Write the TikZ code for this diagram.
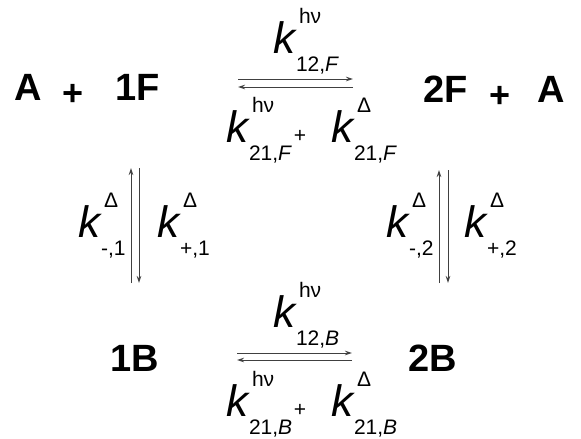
\documentclass[tikz,border=0pt]{standalone}
\usepackage{fontspec}
\setmainfont{Liberation Sans}
\usetikzlibrary{arrows.meta}
\newcommand\smallfs{\fontsize{21}{21}\selectfont}
\newcommand\kr[2]{\textit{k}\rlap{\kern2pt\raisebox{30pt}{\smallfs #1}}\kern-1pt\raisebox{-18pt}{\smallfs #2}}
\tikzset{
  species/.style={inner sep=0pt,anchor=base west,font=\fontsize{38}{38}\selectfont\bfseries},
  plussign/.style={inner sep=0pt,anchor=center,font=\fontsize{36}{36}\selectfont\bfseries},
  rate/.style={inner sep=0pt,anchor=base west,font=\fontsize{44}{44}\selectfont},
  smallplus/.style={inner sep=0pt,anchor=center,font=\smallfs},
  rx/.style={draw=black!75,line width=1pt,-{Stealth[length=7pt,width=4.5pt]}}
}
\begin{document}
\begin{tikzpicture}[x=1pt,y=-1pt]
\useasboundingbox (0,0) rectangle (581,439);
% species
\node[species] (A1) at (14,100) {A};
\node[plussign] (p1) at (73,95) {+};
\node[species] (F1) at (115,100) {1F};
\node[species] (F2) at (423,102) {2F};
\node[plussign] (p2) at (500,97) {+};
\node[species] (A2) at (537,102) {A};
\node[species] (B1) at (110,371) {1B};
\node[species] (B2) at (408,371) {2B};
% arrow end points
\coordinate (t1) at (238,79); \coordinate (t2) at (353,79);
\coordinate (t3) at (353,87); \coordinate (t4) at (238,87);
\coordinate (b1) at (237,353); \coordinate (b2) at (352,353);
\coordinate (b3) at (352,360); \coordinate (b4) at (237,360);
\coordinate (l1) at (131,283); \coordinate (l2) at (131,168);
\coordinate (l3) at (139,168); \coordinate (l4) at (139,283);
\coordinate (r1) at (439,283); \coordinate (r2) at (439,170);
\coordinate (r3) at (448,170); \coordinate (r4) at (448,283);
\draw[rx] (t1) -- (t2);
\draw[rx] (t3) -- (t4);
\draw[rx] (b1) -- (b2);
\draw[rx] (b3) -- (b4);
\draw[rx] (l1) -- (l2);
\draw[rx] (l3) -- (l4);
\draw[rx] (r1) -- (r2);
\draw[rx] (r3) -- (r4);
% rate constants, top
\node[rate] (kt) at (273,53) {\kr{hν}{12,\textit{F}}};
\node[rate] (kt1) at (226,142) {\kr{hν}{21,\textit{F}}};
\node[smallplus] (ptt) at (300,136) {+};
\node[rate] (kt2) at (331,142) {\kr{Δ}{21,\textit{F}}};
% vertical
\node[rate] (kl1) at (78,237) {\kr{Δ}{-,1}};
\node[rate] (kl2) at (157,237) {\kr{Δ}{+,1}};
\node[rate] (kr1) at (386,237) {\kr{Δ}{-,2}};
\node[rate] (kr2) at (464,237) {\kr{Δ}{+,2}};
% bottom
\node[rate] (kb) at (273,327) {\kr{hν}{12,\textit{B}}};
\node[rate] (kb1) at (226,416) {\kr{hν}{21,\textit{B}}};
\node[smallplus] (pbb) at (300,410) {+};
\node[rate] (kb2) at (331,416) {\kr{Δ}{21,\textit{B}}};
\end{tikzpicture}
\end{document}
